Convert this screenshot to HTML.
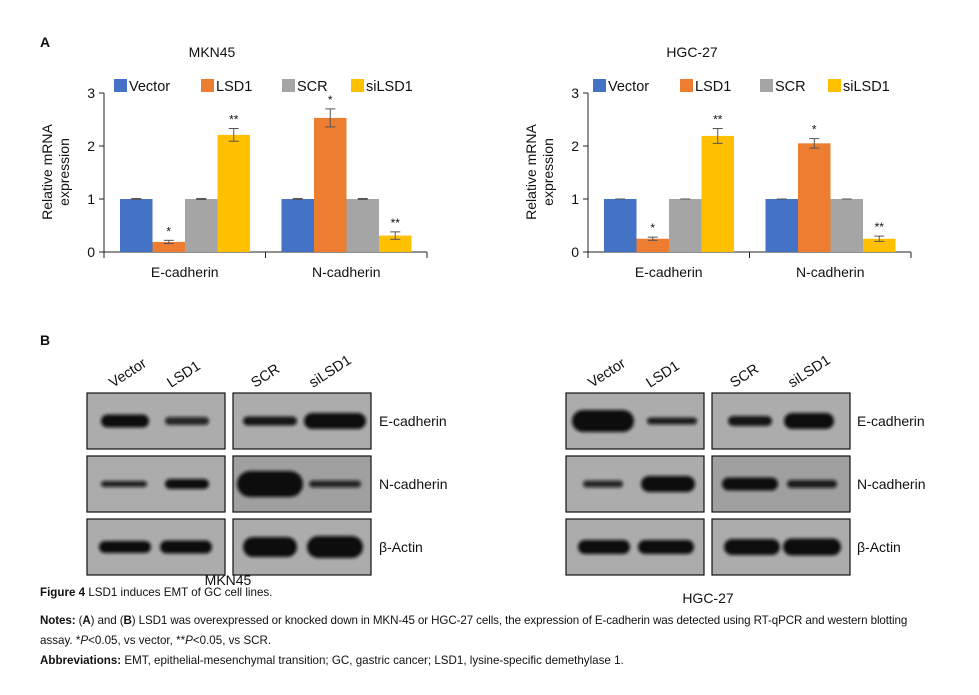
<!DOCTYPE html>
<html><head><meta charset="utf-8"><style>
body{margin:0;background:#fff;width:979px;height:695px;overflow:hidden;position:relative;font-family:"Liberation Sans",sans-serif}
.cap{position:absolute;left:40px;font-size:11.6px;color:#111;white-space:nowrap}
</style></head><body>
<svg id="s" width="979" height="695" style="position:absolute;left:0;top:0">
<defs><filter id="bl" x="-20%" y="-60%" width="140%" height="220%"><feGaussianBlur stdDeviation="1.6"/></filter></defs>
<g id="g"></g>
</svg>
<div class="cap" style="top:586px"><b>Figure 4</b> LSD1 induces EMT of GC cell lines.</div>
<div class="cap" style="top:614px;letter-spacing:-0.1px"><b>Notes:</b> (<b>A</b>) and (<b>B</b>) LSD1 was overexpressed or knocked down in MKN-45 or HGC-27 cells, the expression of E-cadherin was detected using RT-qPCR and western blotting</div>
<div class="cap" style="top:634px">assay. *<i>P</i>&lt;0.05, vs vector, **<i>P</i>&lt;0.05, vs SCR.</div>
<div class="cap" style="top:654px"><b>Abbreviations:</b> EMT, epithelial-mesenchymal transition; GC, gastric cancer; LSD1, lysine-specific demethylase 1.</div>
<script>
const categories=["E-cadherin","N-cadherin"];
const seriesNames=["Vector","LSD1","SCR","siLSD1"];
const colors=["#4472c4","#ed7d31","#a5a5a5","#ffc000"];
const yTicks=[0,1,2,3];
const mknValues=[[1,0.19,1,2.21],[1,2.53,1,0.31]];
const mknErr=[[0.01,0.03,0.01,0.12],[0.01,0.17,0.01,0.07]];
const mknSig=[["","*","","**"],["","*","","**"]];
const hgcValues=[[1,0.25,1,2.19],[1,2.05,1,0.25]];
const hgcErr=[[0,0.03,0,0.14],[0,0.09,0,0.05]];
const hgcSig=[["","*","","**"],["","*","","**"]];
const NS='http://www.w3.org/2000/svg';
const G=document.getElementById('g');
function el(t,a,p){const e=document.createElementNS(NS,t);for(const k in a)e.setAttribute(k,a[k]);(p||G).appendChild(e);return e;}
function tx(x,y,s,a,name){const e=el('text',Object.assign({x:x,y:y,'font-size':14,fill:'#111','font-family':'Liberation Sans, sans-serif'},a||{}));e.textContent=s;return e;}
function chart(ax,title,tx0,vals,errs,sigs,legX,pre){
  const y0=252,y3=93,catW=161.5,barW=32.5,off=16;
  const Y=v=>y0-(y0-y3)*v/3;
  const xEnd=ax+catW*2;
  tx(tx0,57,title,{'text-anchor':'middle'},pre+'-title');
  seriesNames.forEach((n,i)=>{const r=el('rect',{x:legX[i],y:79,width:13,height:13,fill:colors[i]});tx(legX[i]+15,91,n,{'font-size':14.5},pre+'-legend-'+n.toLowerCase());});
  const a=el('line',{x1:ax,y1:Y(3),x2:ax,y2:y0,stroke:'#222','stroke-width':1});
  const b=el('line',{x1:ax,y1:y0,x2:xEnd,y2:y0,stroke:'#222','stroke-width':1});
  yTicks.forEach(t=>{el('line',{x1:ax-5,y1:Y(t),x2:ax,y2:Y(t),stroke:'#222'});tx(ax-9,Y(t)+5,String(t),{'text-anchor':'end','font-size':14},pre+'-y-tick-'+t);});
  for(let c=0;c<=2;c++)el('line',{x1:ax+c*catW,y1:y0,x2:ax+c*catW,y2:y0+6,stroke:'#222'});
  categories.forEach((cat,c)=>{
    tx(ax+c*catW+catW/2,277,cat,{'text-anchor':'middle','font-size':14},pre+'-x-label-'+cat.toLowerCase());
    vals[c].forEach((v,i)=>{
      const x=ax+c*catW+off+i*barW;
      const r=el('rect',{x:x,y:Y(v),width:barW,height:y0-Y(v),fill:colors[i]});
      
      
      const e=errs[c][i],cx=x+barW/2;
      if(e>0){el('line',{x1:cx,y1:Y(v+e),x2:cx,y2:Y(v-e),stroke:'#555'});el('line',{x1:cx-5,y1:Y(v+e),x2:cx+5,y2:Y(v+e),stroke:'#555'});el('line',{x1:cx-5,y1:Y(v-e),x2:cx+5,y2:Y(v-e),stroke:'#555'});}
      else el('line',{x1:cx-5,y1:Y(v),x2:cx+5,y2:Y(v),stroke:'#555'});
      if(sigs[c][i])tx(cx,Y(v+e)-5,sigs[c][i],{'text-anchor':'middle','font-size':12},pre+'-sig-'+c+'-'+i);
    });
  });
  const yl=el('text',{x:0,y:0,'font-size':14,fill:'#111','text-anchor':'middle',transform:'translate('+(ax-52)+',172) rotate(-90)'});
  
  const t1=el('tspan',{x:0,dy:0},yl);t1.textContent='Relative mRNA';const t2=el('tspan',{x:0,dy:17},yl);t2.textContent='expression';
}
tx(40,47,'A',{'font-weight':'bold','font-size':14},'panel-a-label');
tx(40,345,'B',{'font-weight':'bold','font-size':14},'panel-b-label');
chart(104,'MKN45',212,mknValues,mknErr,mknSig,[114,201,282,351],'mkn45');
chart(588,'HGC-27',692,hgcValues,hgcErr,hgcSig,[593,680,760,828],'hgc27');
// western blots: band [lane centre offset, width, height, darkness]
const blotRowsL=[[[[38,48,13,1],[100,44,8,0.85]],[[37,54,9,0.95],[102,62,16,1]]],[[[37,46,6,0.9],[100,44,10,1]],[[37,66,26,1],[102,52,7,0.85]]],[[[38,52,12,1],[99,52,13,1]],[[37,54,20,1],[102,56,22,1]]]];
const blotRowsR=[[[[37,62,22,1],[106,50,7,0.9]],[[38,44,10,0.95],[97,50,16,1]]],[[[37,40,7,0.85],[102,54,16,1]],[[38,56,13,1],[100,50,8,0.9]]],[[[38,52,14,1],[100,56,14,1]],[[40,56,16,1],[100,58,17,1]]]];
const rowLabels=["E-cadherin","N-cadherin","β-Actin"];
function blot(px,rows,labX,pre,lbl,lblX,lblY){
  const rowsY=[393,456,519];
  rows.forEach((row,r)=>{
    row.forEach((panel,p)=>{
      const x0=px[p],w=138,h=56,y=rowsY[r];
      const bg=el('rect',{x:x0,y:y,width:w,height:h,fill:r==1&&p==1?'#a0a0a0':'#acacac',stroke:'#111','stroke-width':1.2});
      
      panel.forEach(bd=>{el('rect',{x:x0+bd[0]-bd[1]/2,y:y+h/2-bd[2]/2,width:bd[1],height:bd[2],rx:bd[2]/2,ry:bd[2]/2,fill:'#0c0c0c','fill-opacity':bd[3],filter:'url(#bl)'});});
    });
    tx(labX,rowsY[r]+33,rowLabels[r],{'font-size':14},pre+'-row-label-'+r);
  });
  const lanes=["Vector","LSD1","SCR","siLSD1"],lx=[px[0]+26,px[0]+84,px[1]+22,px[1]+80];
  lanes.forEach((n,i)=>{tx(lx[i],388,n,{'font-size':14.5,transform:'rotate(-33 '+lx[i]+' 388)'},pre+'-lane-'+n.toLowerCase());});
  tx(lblX,lblY,lbl,{'text-anchor':'middle','font-size':14},pre+'-cell-label');
}
blot([87,233],blotRowsL,379,'mkn45','MKN45',228,585);
blot([566,712],blotRowsR,857,'hgc27','HGC-27',708,603);
</script>
</body></html>
